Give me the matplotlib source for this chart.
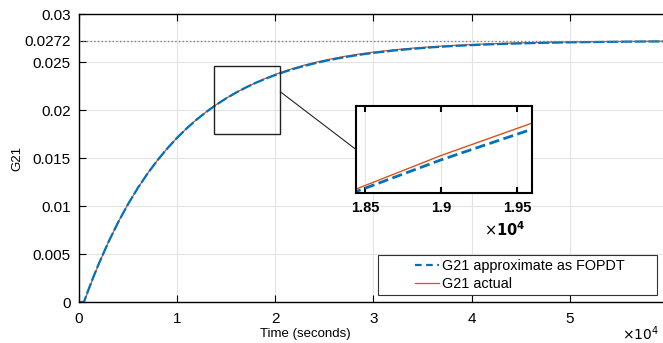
import matplotlib
matplotlib.use("Agg")
import matplotlib.pyplot as plt
from matplotlib.patches import Rectangle, ConnectionPatch
from matplotlib.legend_handler import HandlerLine2D

plt.rcParams['font.family'] = ['Liberation Sans', 'DejaVu Sans']

# time (s)
t = [0, 500, 1000, 1500, 2000, 3000, 4000, 5000, 6000, 7000, 8000, 9000, 10000,
     11000, 12000, 13000, 14000, 15000, 16000, 17000, 18000, 19000, 20000,
     21000, 22000, 23000, 24000, 25000, 26000, 27000, 28000, 29000, 30000,
     32000, 34000, 36000, 38000, 40000, 42000, 44000, 46000, 48000, 50000,
     52000, 54000, 56000, 58000, 60000]
g21_fopdt = [0, 0, 0.001383, 0.002697, 0.003943, 0.006249, 0.008329, 0.010198,
             0.011883, 0.013403, 0.014770, 0.016002, 0.017111, 0.018113, 0.019014,
             0.019825, 0.020557, 0.021216, 0.021810, 0.022344, 0.022825, 0.023257,
             0.023647, 0.023999, 0.024317, 0.024603, 0.024860, 0.025094, 0.025302,
             0.025490, 0.025660, 0.025813, 0.025950, 0.026185, 0.026376, 0.026531,
             0.026658, 0.026760, 0.026843, 0.026910, 0.026965, 0.027010, 0.027046,
             0.027075, 0.027098, 0.027118, 0.027134, 0.027146]
g21_actual = [0, 0, 0.001300, 0.002650, 0.003920, 0.006245, 0.008329, 0.010200,
              0.011887, 0.013408, 0.014776, 0.016010, 0.017120, 0.018123, 0.019024,
              0.019835, 0.020567, 0.021226, 0.021818, 0.022344, 0.022833, 0.023290,
              0.023702, 0.024069, 0.024397, 0.024688, 0.024945, 0.025179, 0.025386,
              0.025573, 0.025742, 0.025894, 0.026030, 0.026260, 0.026446, 0.026597,
              0.026720, 0.026820, 0.026900, 0.026965, 0.027015, 0.027055, 0.027086,
              0.027110, 0.027130, 0.027146, 0.027158, 0.027168]
final_value = 0.0272
yticks = [0, 0.005, 0.01, 0.015, 0.02, 0.025, 0.0272, 0.03]
ytick_labels = ['0', '0.005', '0.01', '0.015', '0.02', '0.025', '0.0272', '0.03']
xticks = [0, 10000, 20000, 30000, 40000, 50000]
xtick_labels = ['0', '1', '2', '3', '4', '5']
inset_xticks = [18500, 19000, 19500]
inset_xtick_labels = ['1.85', '1.9', '1.95']

BLUE = '#0072BD'
ORANGE = '#D95319'
W, H = 663, 343
fig = plt.figure(figsize=(W / 100, H / 100), dpi=100)


def rect(l, t_, r, b):
    return [l / W, 1 - b / H, (r - l) / W, (b - t_) / H]


class RightHandler(HandlerLine2D):
    """Legend line drawn only in the right part of the handle box (MATLAB style)."""
    def create_artists(self, legend, orig_handle, xdescent, ydescent, width,
                       height, fontsize, trans):
        arts = super().create_artists(legend, orig_handle, xdescent, ydescent,
                                      width, height, fontsize, trans)
        x0 = -xdescent
        yv = arts[0].get_ydata()[0]
        arts[0].set_data([x0 + 0.56 * width, x0 + width], [yv, yv])
        return arts


ax = fig.add_axes(rect(79, 14, 663, 302))
ax.plot(t, g21_actual, '-', color=ORANGE, lw=0.9)
ax.plot(t, g21_fopdt, color=BLUE, lw=1.6, ls=(0, (5, 1.2)))
ax.axhline(final_value, color='#808080', ls=':', lw=1.0)
ax.set_xlim(0, 59500)
ax.set_ylim(0, 0.03)
ax.set_yticks(yticks)
ax.set_yticklabels(ytick_labels)
ax.set_xticks(xticks)
ax.set_xticklabels(xtick_labels)
ax.grid(True, color='#e3e3e3', lw=0.8)
ax.tick_params(direction='in', top=True, right=False, labelsize=11, length=5,
               width=0.8)
ax.tick_params(axis='y', pad=6)
ax.tick_params(axis='x', pad=7)
for s in ['left', 'bottom', 'top']:
    ax.spines[s].set_linewidth(1.0)
ax.spines['right'].set_visible(False)
ax.set_ylabel('G21', fontsize=9.5)
ax.yaxis.set_label_coords(-0.095, 0.5)
ax.set_xlabel('Time (seconds)', fontsize=9.5)
ax.xaxis.set_label_coords(0.388, -0.09)
fig.text(640 / W, 1 - 334 / H, r'$\times10^4$', fontsize=10, ha='center', va='center')

# legend frame (MATLAB-like wide box)
ax.add_patch(Rectangle(((378 - 79) / 584, (302 - 295) / 288), 279 / 584, 40 / 288,
                       transform=ax.transAxes, facecolor='white',
                       edgecolor='#333333', lw=0.8, zorder=4.9))
fit_h = plt.Line2D([], [], color=BLUE, lw=1.6, ls=(0, (3, 2)))
act_h = plt.Line2D([], [], color=ORANGE, lw=0.9)
leg = ax.legend([fit_h, act_h], ['G21 approximate as FOPDT', 'G21 actual'],
                loc='center left', fontsize=10.4, frameon=False,
                handlelength=3.9, handletextpad=0.2,
                borderpad=0, labelspacing=0.3, borderaxespad=0,
                bbox_to_anchor=(383 / W, 1 - 275 / H),
                bbox_transform=fig.transFigure,
                handler_map={plt.Line2D: RightHandler()})
leg.set_zorder(6)

# zoom rectangle
ax.add_patch(Rectangle((13780, 0.0175), 20510 - 13780, 0.024583 - 0.0175,
                       fill=False, edgecolor='#222222', lw=1.0, zorder=5))

# inset
axi = fig.add_axes(rect(356, 106, 532, 193))
axi.plot(t, g21_fopdt, '--', color=BLUE, lw=2.0)
axi.plot(t, g21_actual, '-', color=ORANGE, lw=1.0)
axi.set_xlim(18441, 19599)
axi.set_ylim(0.023005, 0.023667)
axi.set_xticks(inset_xticks)
axi.set_xticklabels(inset_xtick_labels, fontweight='bold')
axi.set_yticks([])
axi.grid(True, color='#e3e3e3', lw=0.8)
axi.tick_params(direction='in', top=True, labelsize=10.5, length=4, width=1.5, pad=6)
for s in axi.spines.values():
    s.set_linewidth(1.5)
fig.text(505 / W, 1 - 230 / H, r'$\times\mathbf{10^4}$', fontsize=10.5,
         ha='center', va='center', fontweight='bold')

con = ConnectionPatch(xyA=(20510, 0.0219), coordsA=ax.transData,
                      xyB=(0, 0.5), coordsB=axi.transAxes,
                      color='#222222', lw=0.8)
fig.add_artist(con)

fig.savefig('out.png', dpi=100)
